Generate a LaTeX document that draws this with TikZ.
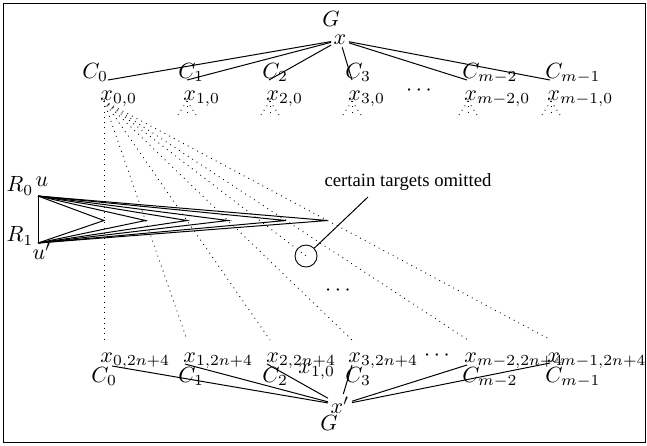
\documentclass[tikz,border=0pt]{standalone}
\usepackage{fontspec}
\newfontfamily\notefont{Liberation Serif}
\usepackage{tikz}
\usetikzlibrary{calc}
\tikzset{
  lbl/.style={inner sep=0pt},
  fan/.style={dotted},
  edge/.style={line width=0.45pt},
  note/.style={font=\notefont\fontsize{8.5}{10}\selectfont, inner sep=0pt},
  ring/.style={circle, draw, minimum size=10pt, inner sep=0pt}
}

\begin{document}
\begin{tikzpicture}[x=0.4545pt, y=-0.4545pt]
  \useasboundingbox (0,0) rectangle (647,445);
  \draw (3,3) rectangle (645,442);

  % Top gadget
  \node[lbl] (gtop) at (331,19) {$G$};
  \node[lbl, inner sep=1pt] (xtop) at (340,40) {$x$};
  \foreach \k/\xl/\sub in {0/82/0, 1/178/1, 2/262/2, 3/345/3, 4/462/m-2, 5/545/m-1}
    \node[lbl, anchor=base west] (Ct\k) at (\xl,78) {$C_{\sub}$};
  \foreach \k/\ex in {0/108, 1/187, 2/269, 3/352, 4/467, 5/550} {
    \coordinate (ct\k) at (\ex,80);
    \draw[edge] (xtop) -- (ct\k);
  }
  \node[lbl, anchor=base] (dtop) at (419,95.5) {$\cdots$};

  % Columns
  \foreach \k/\xl/\sub in {0/100/0, 1/183/1, 2/266/2, 3/348/3, 4/464/m-2, 5/547/m-1} {
    \node[lbl, anchor=base west] (xt\k) at (\xl,100) {$x_{\sub,0}$};
    \coordinate (vt\k) at (\xl+4,101);
    \node[lbl, anchor=base west] (xb\k) at (\xl,362) {$x_{\sub,2n+4}$};
    \coordinate (vb\k) at (\xl+4,340);
  }
  \foreach \k in {1,...,5}
    \foreach \dx in {-9,0,9}
      \draw[fan] (vt\k) -- ++(\dx,14);

  % Omitted targets
  \node[ring] (circ) at (306,256) {};
  \node[note] (omit) at (408,182) {certain targets omitted};
  \coordinate (omitend) at (368,197);
  \draw[edge] (circ) -- (omitend);
  \node[lbl, anchor=base] (dmid) at (338,295.5) {$\cdots$};

  % Fan of x_{0,0}
  \foreach \k in {0,...,5}
    \draw[fan] (vt0) -- (vb\k);
  \draw[fan] (vt0) -- (circ.center);

  % Wedges
  \node[lbl] (r0) at (20,186) {$R_0$};
  \node[lbl] (ulbl) at (42,182) {$u$};
  \node[lbl] (r1) at (20,236) {$R_1$};
  \node[lbl] (udlbl) at (42,251) {$u'$};
  \coordinate (uu) at (38,196);
  \coordinate (ud) at (38,243);
  \draw[edge] (uu) -- (ud);
  \foreach \k in {0,...,5} {
    \coordinate (tip\k) at ($(vt0)!0.5!(vb\k)$);
    \draw[edge] (uu) -- (tip\k) -- (ud);
  }

  % Bottom gadget
  \node[lbl, anchor=base west] (xstray) at (298,373) {$x_{1,0}$};
  \node[lbl, anchor=base] (dbot) at (437,360.5) {$\cdots$};
  \foreach \k/\xl/\sub in {0/91/0, 1/178/1, 2/262/2, 3/345/3, 4/462/m-2, 5/545/m-1}
    \node[lbl, anchor=base west] (Cb\k) at (\xl,382) {$C_{\sub}$};
  \node[lbl, inner sep=1pt] (xbot) at (340,405) {$x'$};
  \node[lbl] (gbot) at (329,423) {$G$};
  \foreach \k/\ex/\ey in {0/112/366, 1/185/364, 2/267/364, 3/352/365, 4/467/365, 5/550/363} {
    \coordinate (cb\k) at (\ex,\ey);
    \draw[edge] (xbot) -- (cb\k);
  }
\end{tikzpicture}
\end{document}
